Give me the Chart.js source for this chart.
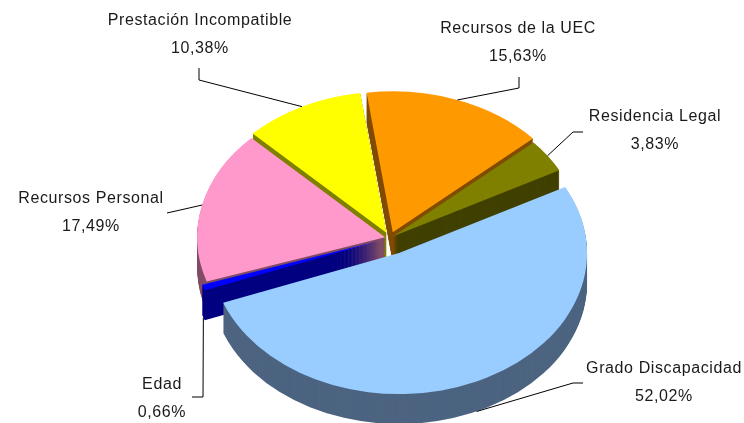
<!DOCTYPE html>
<html>
<head>
<meta charset="utf-8">
<script src="https://cdn.jsdelivr.net/npm/chart.js@4"></script>
<style>
  html, body { margin: 0; padding: 0; background: #fff; }
  #wrap { width: 744px; height: 423px; position: relative; }
</style>
</head>
<body>
<div id="wrap"><canvas id="pieChart"></canvas></div>
<script>
// datos
const categories = ['Recursos de la UEC', 'Residencia Legal', 'Grado Discapacidad', 'Edad', 'Recursos Personal', 'Prestación Incompatible'];
const percentages = [15.63, 3.83, 52.02, 0.66, 17.49, 10.38];

// estilos
const topColors = ['#FF9900', '#808000', '#99CCFF', '#0000FF', '#FF99CC', '#FFFF00'];
const sideColors = ['#804C00', '#404000', '#4C6480', '#000080', '#804C66', '#808000'];
const explode = [8, 4, 22, 10, 5, 8];
const tilt = 0.75;
const depth = 30;

// posicion de etiquetas: [x, y primera linea], linea guia: inicio y codo
const labelPos = [[518, 29], [655, 117], [664, 369], [162, 385], [91, 199], [200, 21]];
const leaderStart = [[519, 77], [583, 132], [583, 383], [192, 397], [167, 213], [199, 68]];
const leaderElbow = [[519, 88], [573, 132], [573, 383], [203, 397], null, [199, 80]];

function fmt(v) {
    return v.toFixed(2).replace('.', ',') + '%';
}

function midAngle(a) {
    return (a.startAngle + a.endAngle) / 2;
}

function sliceTransform(ctx, cx, cy, m, e, dy) {
    ctx.translate(0, dy);
    ctx.translate(cx, cy);
    ctx.scale(1, tilt);
    ctx.translate(-cx + Math.cos(m) * e, -cy + Math.sin(m) * e);
}

const pie3d = {
    id: 'pie3d',
    beforeDatasetsDraw(chart) {
        const ctx = chart.ctx;
        const arcs = chart.getDatasetMeta(0).data;
        const cx = arcs[0].x, cy = arcs[0].y;
        const order = arcs.map((a, i) => i)
            .sort((i, j) => Math.sin(midAngle(arcs[i])) - Math.sin(midAngle(arcs[j])));

        order.forEach(i => {
            const a = arcs[i];
            const m = midAngle(a);
            ctx.fillStyle = sideColors[i];
            for (let d = depth; d > 0; d--) {
                ctx.save();
                sliceTransform(ctx, cx, cy, m, explode[i], d);
                ctx.beginPath();
                ctx.moveTo(a.x, a.y);
                ctx.arc(a.x, a.y, a.outerRadius, a.startAngle, a.endAngle);
                ctx.closePath();
                ctx.fill();
                ctx.restore();
            }
            ctx.save();
            sliceTransform(ctx, cx, cy, m, explode[i], 0);
            a.draw(ctx);
            ctx.restore();
        });
        return false;
    },
    afterDraw(chart) {
        const ctx = chart.ctx;
        const arcs = chart.getDatasetMeta(0).data;
        const cx = arcs[0].x, cy = arcs[0].y;

        ctx.save();
        ctx.strokeStyle = '#000';
        ctx.lineWidth = 1;
        arcs.forEach((a, i) => {
            const m = midAngle(a);
            const r = a.outerRadius + explode[i];
            const ax = cx + Math.cos(m) * r;
            let ay = cy + Math.sin(m) * r * tilt;
            if (Math.sin(m) > 0.25) ay += depth;
            ctx.beginPath();
            ctx.moveTo(leaderStart[i][0], leaderStart[i][1]);
            if (leaderElbow[i]) ctx.lineTo(leaderElbow[i][0], leaderElbow[i][1]);
            ctx.lineTo(ax, ay);
            ctx.stroke();
        });

        ctx.fillStyle = '#1a1a1a';
        ctx.font = '16px "Liberation Sans", Arial, sans-serif';
        ctx.letterSpacing = '0.6px';
        ctx.textAlign = 'center';
        ctx.textBaseline = 'middle';
        categories.forEach((c, i) => {
            ctx.fillText(c, labelPos[i][0], labelPos[i][1]);
            ctx.fillText(fmt(percentages[i]), labelPos[i][0], labelPos[i][1] + 28);
        });
        ctx.restore();
    }
};

new Chart(document.getElementById('pieChart'), {
    type: 'pie',
    data: {
        labels: categories,
        datasets: [{
            data: percentages,
            backgroundColor: topColors,
            borderWidth: 0
        }]
    },
    options: {
        responsive: true,
        maintainAspectRatio: false,
        animation: false,
        rotation: -8,
        radius: 188,
        layout: { padding: { left: 36, right: 0, top: 53, bottom: 0 } },
        plugins: {
            legend: { display: false },
            tooltip: { enabled: false }
        }
    },
    plugins: [pie3d]
});
</script>
</body>
</html>
